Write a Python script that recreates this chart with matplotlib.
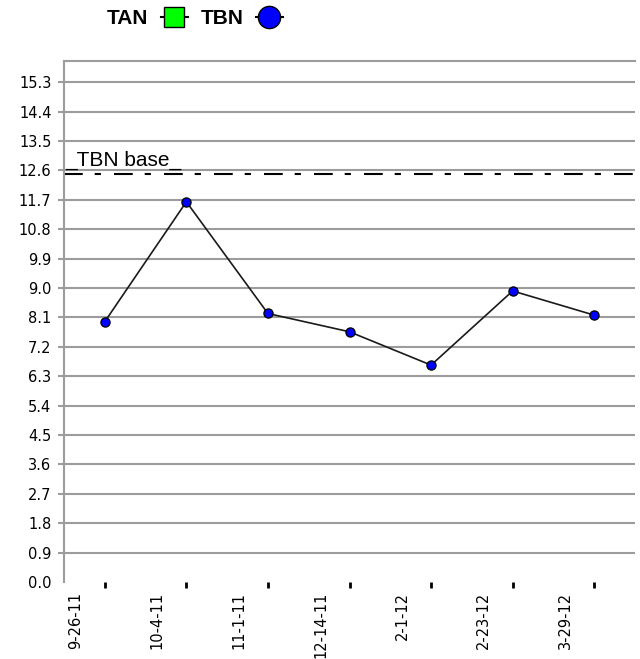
import matplotlib
matplotlib.use("Agg")
import matplotlib.pyplot as plt
import matplotlib.transforms as mtransforms
from matplotlib.lines import Line2D
import numpy as np

plt.rcParams['lines.scale_dashes'] = False

# ---- data ----
dates = ["9-26-11", "10-4-11", "11-1-11", "12-14-11", "2-1-12", "2-23-12", "3-29-12"]
tbn_values = [7.97, 11.64, 8.22, 7.66, 6.64, 8.91, 8.17]
tan_values = []          # no TAN readings shown
tbn_base = 12.5
y_ticks = [0.0, 0.9, 1.8, 2.7, 3.6, 4.5, 5.4, 6.3, 7.2, 8.1, 9.0, 9.9,
           10.8, 11.7, 12.6, 13.5, 14.4, 15.3]

W, H = 640, 659
fig = plt.figure(figsize=(W / 100, H / 100), dpi=100)
ax = fig.add_axes([64 / W, 1 - 582 / H, (635 - 64) / W, (582 - 61) / H])

grid_col = '#9c9c9c'
x = np.arange(len(dates))

# grid lines
for i, yv in enumerate(y_ticks):
    if i == 0:
        continue
    ax.axhline(yv, color=grid_col, lw=1.5, zorder=1)

# TBN base line
ax.axhline(tbn_base, color='black', lw=1.5, dashes=(13.5, 8.6, 4.5, 9.4), zorder=2)
ax.text(0.002, 12.75, "_TBN base_", transform=mtransforms.blended_transform_factory(ax.transAxes, ax.transData),
        fontsize=15, family='Liberation Sans', va='baseline', ha='left', color='black', zorder=3)

# series
ax.plot(x[:len(tan_values)], tan_values, color='black', lw=1.2, marker='s', ms=13,
        mfc='#00ff00', mec='black', label='TAN')
ax.plot(x, tbn_values, color='#1a1a1a', lw=1.2, marker='o', ms=6.6, mfc='#0000ff',
        mec='black', mew=0.9, zorder=4, label='TBN')

ax.set_xlim(-0.5, 6.5)
ax.set_ylim(0, 15.95)

# y axis
ax.set_yticks(y_ticks)
ax.set_yticklabels([f"{v:.1f}" for v in y_ticks], fontsize=10.5, family='DejaVu Sans')
ax.tick_params(axis='y', length=4, width=1.5, color=grid_col, pad=5)
ax.yaxis.get_major_ticks()[0].tick1line.set_visible(False)

# x axis
ax.set_xticks(x)
ax.set_xticklabels(dates, rotation=90, fontsize=10.5, family='DejaVu Sans', va='top', ha='center')
ax.tick_params(axis='x', length=4, width=2, color='black', pad=3)
offset = mtransforms.ScaledTranslation(-29 / 100, 0, fig.dpi_scale_trans)
for lbl in ax.get_xticklabels():
    lbl.set_transform(lbl.get_transform() + offset)

for s in ['bottom', 'right']:
    ax.spines[s].set_visible(False)
for s in ['left', 'top']:
    ax.spines[s].set_color(grid_col)
    ax.spines[s].set_linewidth(1.5)

# legend
handles = [
    Line2D([], [], color='black', lw=1.5, marker='s', ms=14.5, mfc='#00ff00', mec='black', mew=1),
    Line2D([], [], color='black', lw=1.5, marker='o', ms=16, mfc='#0000ff', mec='black', mew=1),
]
fig.legend(handles, ['TAN', 'TBN'], loc='center', bbox_to_anchor=(195 / W, 1 - 19 / H),
           ncol=2, frameon=False, markerfirst=False, handlelength=1.3, handletextpad=0.6,
           columnspacing=0.6, prop={'family': 'Liberation Sans', 'weight': 'bold', 'size': 15})

fig.savefig("out.png", dpi=100)
